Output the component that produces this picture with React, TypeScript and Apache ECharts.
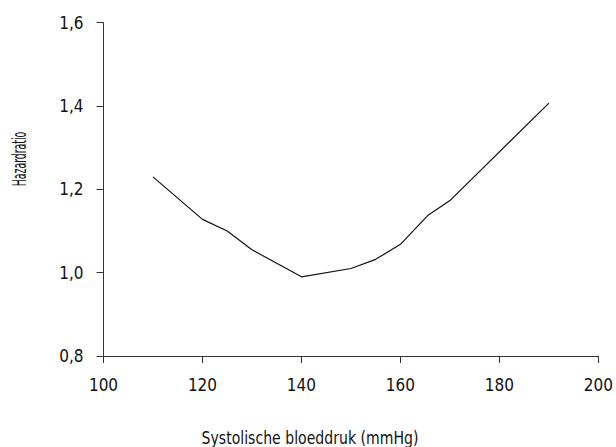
import React, { useEffect, useRef } from "react";
import * as echarts from "echarts";

const bloodPressure = [110, 120, 125, 130, 140, 150, 155, 160, 165.5, 170, 190];
const hazardRatio = [1.23, 1.128, 1.1, 1.055, 0.99, 1.01, 1.032, 1.068, 1.137, 1.173, 1.407];
const xTicks = [100, 120, 140, 160, 180, 200];
const yTicks = [0.8, 1.0, 1.2, 1.4, 1.6];
const xTitle = "Systolische bloeddruk (mmHg)";
const yTitle = "Hazardratio";

const FONT = "'DejaVu Sans Condensed', 'DejaVu Sans', sans-serif";

export default function App() {
  const ref = useRef<HTMLDivElement>(null);
  useEffect(() => {
    if (!ref.current) return;
    const chart = echarts.init(ref.current, null, { renderer: "svg" });
    chart.setOption({
      animation: false,
      backgroundColor: "#fff",
      grid: { left: 103.5, right: 13.3, top: 22.7, bottom: 91, containLabel: false },
      graphic: [
        {
          type: "text",
          x: 310,
          y: 438,
          scaleX: 0.92,
          style: {
            text: xTitle,
            fontFamily: FONT,
            fontSize: 17,
            fill: "#111",
            align: "center",
            verticalAlign: "middle",
          },
        },
        {
          type: "text",
          x: 19,
          y: 159,
          rotation: Math.PI / 2,
          scaleX: 0.52,
          style: {
            text: yTitle,
            fontFamily: FONT,
            fontSize: 20,
            fill: "#111",
            align: "center",
            verticalAlign: "middle",
          },
        },
      ],
      xAxis: {
        type: "value",
        min: xTicks[0],
        max: xTicks[xTicks.length - 1],
        interval: 20,
        axisLine: { show: true, lineStyle: { color: "#333", width: 1 } },
        axisTick: { show: true, length: 7, lineStyle: { color: "#333" } },
        axisLabel: { margin: 20, fontFamily: FONT, fontSize: 17, color: "#111" },
        splitLine: { show: false },
      },
      yAxis: {
        type: "value",
        min: yTicks[0],
        max: yTicks[yTicks.length - 1],
        interval: 0.2,
        axisLine: { show: true, lineStyle: { color: "#333", width: 1 } },
        axisTick: { show: true, length: 7, lineStyle: { color: "#333" } },
        axisLabel: {
          margin: 20,
          fontFamily: FONT,
          fontSize: 17,
          color: "#111",
          formatter: (v: number) => v.toFixed(1).replace(".", ","),
        },
        splitLine: { show: false },
      },
      series: [
        {
          type: "line",
          data: bloodPressure.map((x, i) => [x, hazardRatio[i]]),
          showSymbol: false,
          lineStyle: { color: "#111", width: 1.2 },
        },
      ],
    });
    return () => chart.dispose();
  }, []);
  return (
    <div
      ref={ref}
      style={{ position: "fixed", left: 0, top: 0, width: 616, height: 447 }}
    />
  );
}
